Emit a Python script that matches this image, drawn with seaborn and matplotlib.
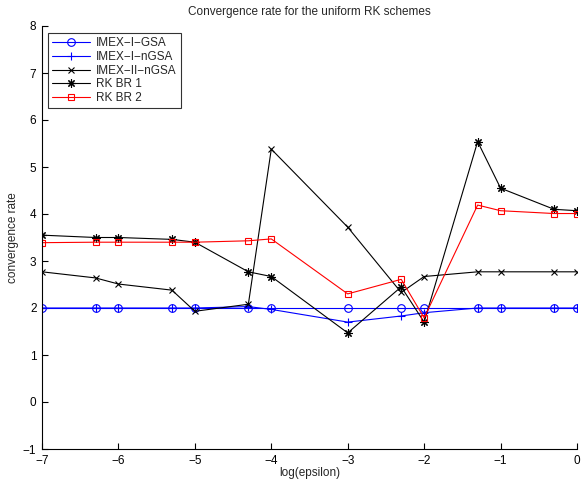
import matplotlib
matplotlib.use("Agg")
import matplotlib.pyplot as plt
import seaborn as sns
import pandas as pd

# ---- data ----
log_eps = [-7, -6.3, -6, -5.3, -5, -4.3, -4, -3, -2.3, -2, -1.3, -1, -0.3, 0]
imex_i_gsa = [2.0, 2.0, 2.0, 2.0, 2.0, 2.0, 2.0, 2.0, 2.0, 2.0, 2.0, 2.0, 2.0, 2.0]
imex_i_ngsa = [2.0, 2.0, 2.0, 2.0, 2.0, 2.03, 1.97, 1.70, 1.83, 1.90, 2.0, 2.0, 2.0, 2.0]
imex_ii_ngsa = [2.77, 2.64, 2.51, 2.38, 1.93, 2.08, 5.38, 3.72, 2.33, 2.67, 2.77, 2.77, 2.77, 2.77]
rk_br1 = [3.55, 3.50, 3.50, 3.46, 3.40, 2.77, 2.67, 1.47, 2.45, 1.70, 5.54, 4.55, 4.10, 4.07]
rk_br2 = [3.39, 3.40, 3.40, 3.40, 3.40, 3.43, 3.47, 2.30, 2.61, 1.79, 4.19, 4.07, 4.01, 4.01]
series_names = ["IMEX\u2212I\u2212GSA", "IMEX\u2212I\u2212nGSA", "IMEX\u2212II\u2212nGSA", "RK BR 1", "RK BR 2"]
x_ticks = [-7, -6, -5, -4, -3, -2, -1, 0]
y_ticks = [-1, 0, 1, 2, 3, 4, 5, 6, 7, 8]

sns.set_theme(style="white")
plt.rcParams["font.family"] = ["Liberation Sans", "DejaVu Sans"]
plt.rcParams["font.size"] = 8.5

fig = plt.figure(figsize=(5.83, 4.80), dpi=100)
ax = fig.add_axes([42 / 583, 1 - 449 / 480, 535 / 583, 423 / 480])

styles = [
    dict(color="blue", marker="o", markersize=5.5, markerfacecolor="none"),
    dict(color="blue", marker="+", markersize=6),
    dict(color="black", marker="x", markersize=4.5),
    dict(color="black", marker=(8, 2, 0), markersize=6),
    dict(color="red", marker="s", markersize=5, markerfacecolor="none"),
]
data = [imex_i_gsa, imex_i_ngsa, imex_ii_ngsa, rk_br1, rk_br2]

for name, vals, st in zip(series_names, data, styles):
    df = pd.DataFrame({"x": log_eps, "y": vals})
    sns.lineplot(data=df, x="x", y="y", ax=ax, label=name, linewidth=0.8,
                 markeredgewidth=0.8, markeredgecolor=st["color"], **st)

ax.set_xlim(-7, 0)
ax.set_ylim(-1, 8)
ax.set_xticks(x_ticks)
ax.set_yticks(y_ticks)
ax.tick_params(direction="in", length=4, width=0.8, labelsize=8.5, pad=4,
               bottom=True, left=True, top=False, right=False, colors="black")
for s in ["top", "right"]:
    ax.spines[s].set_visible(False)
for s in ["left", "bottom"]:
    ax.spines[s].set_color("black")
    ax.spines[s].set_linewidth(0.8)

ax.set_title("Convergence rate for the uniform RK schemes", fontsize=8.5, pad=8)
ax.set_xlabel("log(epsilon)", fontsize=8.5, labelpad=0)
ax.set_ylabel("convergence rate", fontsize=8.5, labelpad=3)

leg = ax.legend(loc="upper left", bbox_to_anchor=(6 / 535, 1 - 7 / 423), borderaxespad=0,
                fancybox=False, frameon=True, fontsize=8.5, handlelength=3.2,
                labelspacing=0.15, borderpad=0.35, handletextpad=0.5)
leg.get_frame().set_edgecolor("black")
leg.get_frame().set_linewidth(0.8)

fig.savefig("out.png", dpi=100)
